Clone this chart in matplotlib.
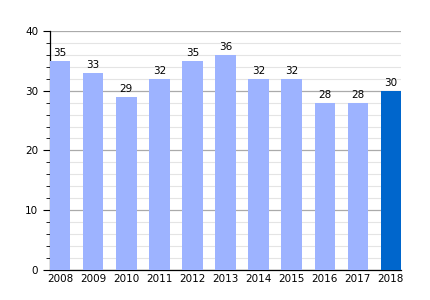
import numpy as np
import matplotlib.pyplot as plt
from matplotlib.ticker import MultipleLocator

years = ['2008', '2009', '2010', '2011', '2012', '2013', '2014', '2015', '2016', '2017', '2018']
values = [35, 33, 29, 32, 35, 36, 32, 32, 28, 28, 30]
colors = ['#9db3ff'] * 10 + ['#0066cc']

fig = plt.figure(figsize=(4.3, 3), dpi=100)
ax = fig.add_axes([0.116, 0.1, 0.817, 0.797])

x = np.arange(len(years))
w = 0.62
ax.bar(x, values, width=w, color=colors, zorder=3)
for xi, v in zip(x, values):
    ax.text(xi, v + 0.4, str(v), ha='center', va='bottom', fontsize=7.5, zorder=4)

ax.set_xlim(-w / 2, len(years) - 1 + w / 2)
ax.set_ylim(0, 40)
ax.set_xticks(x)
ax.set_xticklabels(years)
ax.yaxis.set_major_locator(MultipleLocator(10))
ax.yaxis.set_minor_locator(MultipleLocator(2))
ax.grid(axis='y', which='major', color='#aaaaaa', linewidth=0.9, zorder=0)
ax.grid(axis='y', which='minor', color='#e4e4e4', linewidth=0.8, zorder=0)
for s in ['top', 'right']:
    ax.spines[s].set_visible(False)
ax.spines['left'].set_linewidth(0.9)
ax.spines['bottom'].set_linewidth(0.9)
ax.tick_params(axis='x', length=0, labelsize=7.5, pad=3)
ax.tick_params(axis='y', which='major', length=5, labelsize=7.5)
ax.tick_params(axis='y', which='minor', length=3)

fig.savefig('out.png', dpi=100)
